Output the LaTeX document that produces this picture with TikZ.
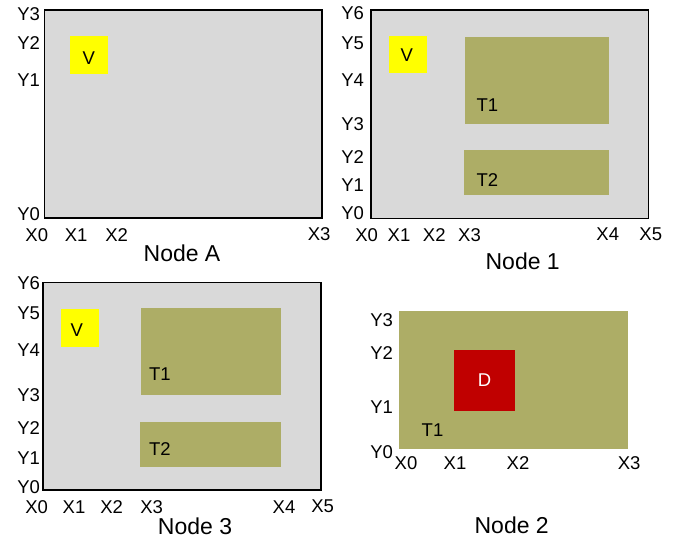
\documentclass[tikz,border=0pt]{standalone}
\usepackage{fontspec}
\setmainfont{Liberation Sans}
\definecolor{panelgray}{HTML}{D9D9D9}
\definecolor{tolive}{HTML}{ADAD66}
\definecolor{vyellow}{HTML}{FFFF00}
\definecolor{dred}{HTML}{C00000}
\newcommand\labfont{\fontsize{18.5}{20}\selectfont}
\newcommand\ttlfont{\fontsize{23}{26}\selectfont}
\tikzset{
  every node/.style={inner sep=0pt, outer sep=0pt, font=\labfont},
  frame/.style={draw=black, line width=1.6pt, fill=panelgray, anchor=north west},
  vbox/.style={fill=vyellow, anchor=north west},
  tbox/.style={fill=tolive, anchor=north west},
  dbox/.style={fill=dred, anchor=north west},
  ylab/.style={anchor=east},
  xlab/.style={anchor=center},
  tlab/.style={anchor=west},
  ttl/.style={anchor=center, font=\ttlfont}
}
\begin{document}
\begin{tikzpicture}[x=1pt,y=-1pt]
\useasboundingbox (0,0) rectangle (688,542);

% ---------------- Node A ----------------
\node[frame, minimum width=277.5pt, minimum height=208pt] (fA) at (44.3,10) {};
\node[vbox, minimum width=38pt, minimum height=37.5pt] (vA) at (70,36) {};
\node (vAt) at (88.8,58.3) {V};
\node[ylab] (aY3) at (40,14) {Y3};
\node[ylab] (aY2) at (40,43.3) {Y2};
\node[ylab] (aY1) at (40,80) {Y1};
\node[ylab] (aY0) at (40,214) {Y0};
\node[xlab] (aX0) at (36.8,235) {X0};
\node[xlab] (aX1) at (76.2,235) {X1};
\node[xlab] (aX2) at (116.7,235) {X2};
\node[xlab] (aX3) at (319.2,234) {X3};
\node[ttl] (tA) at (182,253.5) {Node A};

% ---------------- Node 1 ----------------
\node[frame, minimum width=277.6pt, minimum height=208.3pt] (f1) at (370.7,10) {};
\node[vbox, minimum width=37.7pt, minimum height=37.6pt] (v1) at (389.3,35.7) {};
\node (v1t) at (406.7,55) {V};
\node[tbox, minimum width=144pt, minimum height=86.7pt] (t11) at (465,37) {};
\node[tlab] (t11t) at (476.5,105) {T1};
\node[tbox, minimum width=145pt, minimum height=45pt] (t12) at (464,150) {};
\node[tlab] (t12t) at (476.5,180) {T2};
\node[ylab] (bY6) at (364,13.3) {Y6};
\node[ylab] (bY5) at (364,43.3) {Y5};
\node[ylab] (bY4) at (364,80.3) {Y4};
\node[ylab] (bY3) at (364,124) {Y3};
\node[ylab] (bY2) at (364,156.7) {Y2};
\node[ylab] (bY1) at (364,185) {Y1};
\node[ylab] (bY0) at (364,213.3) {Y0};
\node[xlab] (bX0) at (366.7,235) {X0};
\node[xlab] (bX1) at (399,235) {X1};
\node[xlab] (bX2) at (434.3,235) {X2};
\node[xlab] (bX3) at (469.5,235) {X3};
\node[xlab] (bX4) at (607.8,234.5) {X4};
\node[xlab] (bX5) at (650.8,234.5) {X5};
\node[ttl] (t1) at (522.7,261.7) {Node 1};

% ---------------- Node 3 ----------------
\node[frame, minimum width=278.3pt, minimum height=207.7pt] (f3) at (42.7,282.3) {};
\node[vbox, minimum width=38.3pt, minimum height=37.7pt] (v3) at (60.7,309) {};
\node (v3t) at (76.7,330) {V};
\node[tbox, minimum width=140pt, minimum height=87pt] (t31) at (141,308) {};
\node[tlab] (t31t) at (149,374) {T1};
\node[tbox, minimum width=141pt, minimum height=44.7pt] (t32) at (140,422) {};
\node[tlab] (t32t) at (149,449.3) {T2};
\node[ylab] (cY6) at (40,283.3) {Y6};
\node[ylab] (cY5) at (40,313.3) {Y5};
\node[ylab] (cY4) at (40,350.3) {Y4};
\node[ylab] (cY3) at (40,395) {Y3};
\node[ylab] (cY2) at (40,428.3) {Y2};
\node[ylab] (cY1) at (40,458.3) {Y1};
\node[ylab] (cY0) at (40,486.7) {Y0};
\node[xlab] (cX0) at (36.7,506.7) {X0};
\node[xlab] (cX1) at (74,506.7) {X1};
\node[xlab] (cX2) at (111.7,506.7) {X2};
\node[xlab] (cX3) at (151.7,506.7) {X3};
\node[xlab] (cX4) at (284,506.7) {X4};
\node[xlab] (cX5) at (322.7,506.7) {X5};
\node[ttl] (t3) at (195,526.7) {Node 3};

% ---------------- Node 2 ----------------
\node[tbox, minimum width=228.4pt, minimum height=138.3pt] (t21) at (399.3,311) {};
\node[dbox, minimum width=61pt, minimum height=60.7pt] (d2) at (454,350) {};
\node[text=white] (d2t) at (484.5,379.7) {D};
\node[tlab] (t21t) at (421.7,430) {T1};
\node[ylab] (dY3) at (393,319.7) {Y3};
\node[ylab] (dY2) at (393,353.3) {Y2};
\node[ylab] (dY1) at (393,407.5) {Y1};
\node[ylab] (dY0) at (393,451.7) {Y0};
\node[xlab] (dX0) at (406,463.3) {X0};
\node[xlab] (dX1) at (455,463.3) {X1};
\node[xlab] (dX2) at (518,463.3) {X2};
\node[xlab] (dX3) at (629.2,463.3) {X3};
\node[ttl] (t2) at (511.7,525) {Node 2};
\end{tikzpicture}
\end{document}
